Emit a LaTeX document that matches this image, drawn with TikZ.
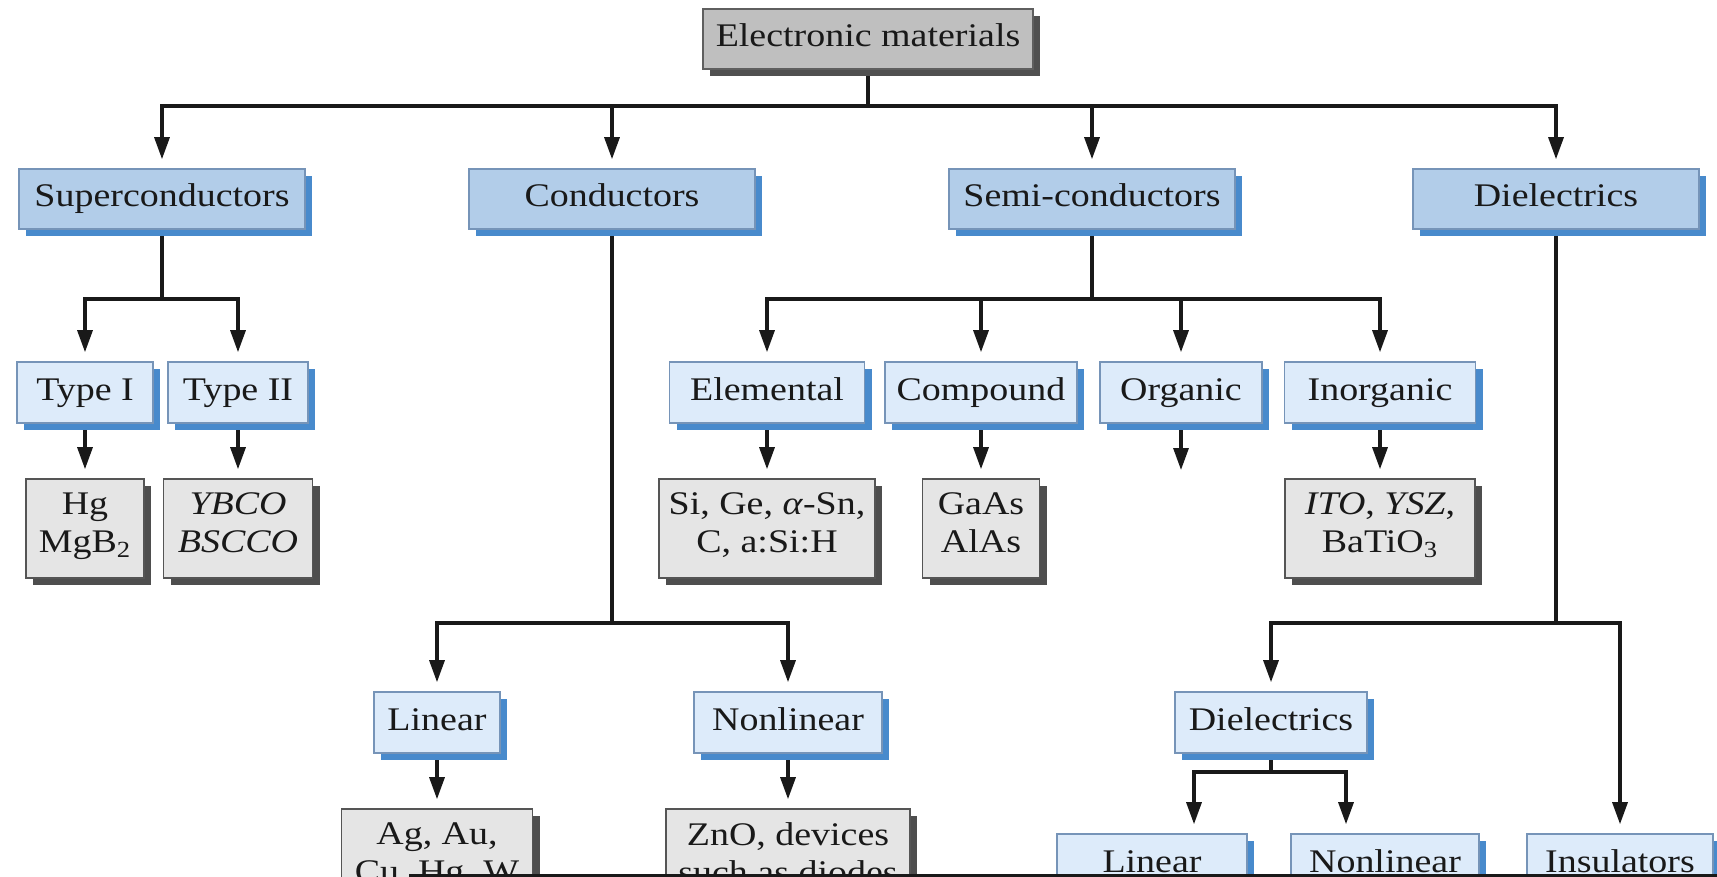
\documentclass[tikz,border=0pt]{standalone}
\usepackage{fontspec}
\setmainfont{Liberation Serif}[FakeStretch=1.15]
\usepackage{tikz}
\usetikzlibrary{
  arrows.meta,
  shadows,
  backgrounds
}
\definecolor{rootgray}{RGB}{191,191,191}
\definecolor{rootedge}{RGB}{95,95,95}
\definecolor{rootshade}{RGB}{80,80,80}
\definecolor{classblue}{RGB}{178,205,233}
\definecolor{subblue}{RGB}{221,235,250}
\definecolor{blueedge}{RGB}{118,148,184}
\definecolor{blueshade}{RGB}{72,138,204}
\definecolor{leafgray}{RGB}{229,229,229}
\definecolor{leafedge}{RGB}{85,85,85}
\definecolor{leafshade}{RGB}{78,78,78}
\definecolor{inkblack}{RGB}{25,25,25}
\tikzset{
  matbox/.style={
    draw,
    line width=0.8pt,
    inner sep=0pt,
    align=center,
    text=inkblack,
    font=\fontsize{16.5}{19}\selectfont,
    execute at begin node=\strut
  },
  rootbox/.style={matbox,draw=rootedge,fill=rootgray,minimum height=30pt,
    drop shadow={shadow xshift=3.5pt,shadow yshift=-3.5pt,opacity=1,fill=rootshade}},
  classbox/.style={matbox,draw=blueedge,fill=classblue,minimum height=30pt,
    drop shadow={shadow xshift=3.5pt,shadow yshift=-3.5pt,opacity=1,fill=blueshade}},
  subbox/.style={matbox,draw=blueedge,fill=subblue,minimum height=30.5pt,
    drop shadow={shadow xshift=3.5pt,shadow yshift=-3.5pt,opacity=1,fill=blueshade}},
  leafbox/.style={matbox,draw=leafedge,fill=leafgray,minimum height=49.5pt,
    drop shadow={shadow xshift=3.5pt,shadow yshift=-3.5pt,opacity=1,fill=leafshade}},
  treeline/.style={draw=inkblack,line width=1.6pt},
  treearrow/.style={treeline,-{Triangle[length=11pt,width=7.5pt]},shorten >=4.5pt},
}

\begin{document}
\begin{tikzpicture}[x=0.5pt,y=-0.5pt]
  \useasboundingbox (0,0) rectangle (1717,877);
  \clip (0,0) rectangle (1717,877);

  \node[rootbox,minimum width=165pt] (materials) at (868,39) {Electronic materials};

  \node[classbox,minimum width=143pt] (superc) at (162,199) {Superconductors};
  \node[classbox,minimum width=143pt] (conduc) at (612,199) {Conductors};
  \node[classbox,minimum width=143pt] (semic) at (1092,199) {Semi-conductors};
  \node[classbox,minimum width=143pt] (dielec) at (1556,199) {Dielectrics};

  \node[subbox,minimum width=68pt] (typeone) at (85,392.5) {Type I};
  \node[subbox,minimum width=70pt] (typetwo) at (238,392.5) {Type II};
  \node[subbox,minimum width=97.5pt] (elemental) at (767,392.5) {Elemental};
  \node[subbox,minimum width=96pt] (compound) at (981,392.5) {Compound};
  \node[subbox,minimum width=81pt] (organic) at (1181,392.5) {Organic};
  \node[subbox,minimum width=95.5pt] (inorganic) at (1380,392.5) {Inorganic};

  \node[leafbox,minimum width=59pt] (hgmg) at (85,528.5) {Hg\\MgB\textsubscript{2}};
  \node[leafbox,minimum width=74.5pt] (cuprate) at (238,528.5) {\textit{YBCO}\\\textit{BSCCO}};
  \node[leafbox,minimum width=108pt] (elemlist) at (767,528.5) {Si, Ge, \textit{α}-Sn,\\C, a:Si:H};
  \node[leafbox,minimum width=58.5pt] (complist) at (981,528.5) {GaAs\\AlAs};
  \node[leafbox,minimum width=95pt] (inorglist) at (1380,528.5) {\textit{ITO}, \textit{YSZ},\\BaTiO\textsubscript{3}};
  \coordinate (orgend) at (1181,479);

  \node[subbox,minimum width=63pt] (linear) at (437,722.5) {Linear};
  \node[subbox,minimum width=94pt] (nonlinear) at (788,722.5) {Nonlinear};
  \node[subbox,minimum width=96pt] (dielsub) at (1271,722.5) {Dielectrics};

  \node[leafbox,minimum width=95.5pt] (linlist) at (437,858.5) {Ag, Au,\\Cu, Hg, W};
  \node[leafbox,minimum width=122pt] (nonlinlist) at (788,858.5) {ZnO, devices\\such as diodes};

  \node[subbox,minimum width=95pt] (dlinear) at (1152,864.5) {Linear};
  \node[subbox,minimum width=94pt] (dnonlinear) at (1385,864.5) {Nonlinear};
  \node[subbox,minimum width=93pt] (insul) at (1620,864.5) {Insulators};

  \coordinate (mainbus) at (868,106);
  \coordinate (superbus) at (162,299);
  \coordinate (semibus) at (1092,299);
  \coordinate (condbus) at (612,623);
  \coordinate (dielbus) at (1556,623);
  \coordinate (subbus) at (1271,772);

  \begin{scope}[on background layer]
    \draw[treeline] (materials) -- (mainbus);
    \foreach \cls in {superc,conduc,semic,dielec}
      \draw[treearrow] (mainbus) -| (\cls);

    \draw[treeline] (superc) -- (superbus);
    \draw[treearrow] (superbus) -| (typeone);
    \draw[treearrow] (superbus) -| (typetwo);
    \draw[treearrow] (typeone) -- (hgmg);
    \draw[treearrow] (typetwo) -- (cuprate);

    \draw[treeline] (semic) -- (semibus);
    \foreach \cls in {elemental,compound,organic,inorganic}
      \draw[treearrow] (semibus) -| (\cls);
    \draw[treearrow] (elemental) -- (elemlist);
    \draw[treearrow] (compound) -- (complist);
    \draw[treearrow] (organic) -- (orgend);
    \draw[treearrow] (inorganic) -- (inorglist);

    \draw[treeline] (conduc) -- (condbus);
    \draw[treearrow] (condbus) -| (linear);
    \draw[treearrow] (condbus) -| (nonlinear);
    \draw[treearrow] (linear) -- (linlist);
    \draw[treearrow] (nonlinear) -- (nonlinlist);

    \draw[treeline] (dielec) -- (dielbus);
    \draw[treearrow] (dielbus) -| (dielsub);
    \draw[treearrow] (dielbus) -| (insul);
    \draw[treeline] (dielsub) -- (subbus);
    \draw[treearrow] (subbus) -| ([xshift=21pt]dlinear.north);
    \draw[treearrow] (subbus) -| ([xshift=-19.5pt]dnonlinear.north);
  \end{scope}

  \fill[inkblack] (409,873.5) rectangle (1717,877);
\end{tikzpicture}
\end{document}
